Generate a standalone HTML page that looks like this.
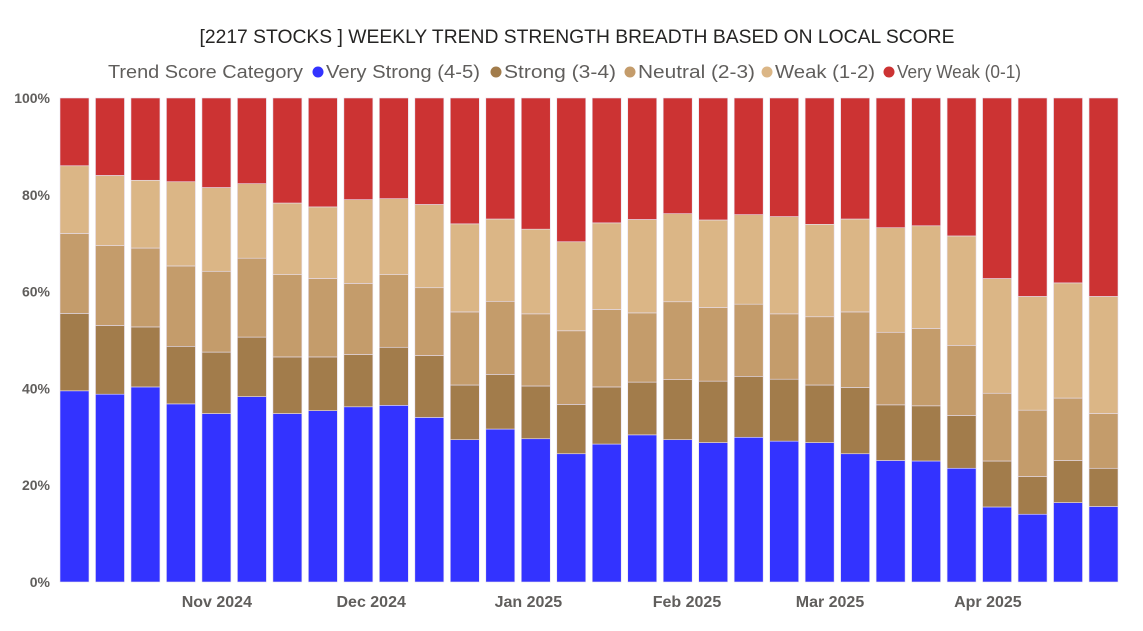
<!DOCTYPE html>
<html><head><meta charset="utf-8"><style>
body{margin:0;background:#fff;width:1143px;height:626px;overflow:hidden;font-family:"Liberation Sans",sans-serif}
</style></head><body>
<svg id="chart" width="1143" height="626" xmlns="http://www.w3.org/2000/svg">
<text x="577" y="43" text-anchor="middle" font-size="19" textLength="755" lengthAdjust="spacingAndGlyphs" fill="#252423">[2217 STOCKS ] WEEKLY TREND STRENGTH BREADTH BASED ON LOCAL SCORE</text>
<g id="legend"></g>
<g id="yaxis"></g>
<g id="bars"></g>
<g id="xaxis"></g>
</svg>
<script>
const seriesNames=["Very Strong (4-5)","Strong (3-4)","Neutral (2-3)","Weak (1-2)","Very Weak (0-1)"];
const seriesColors=["#3333ff","#a27c4b","#c49c6b","#dbb686","#cc3333"];
const veryStrong=[39.5,38.8,40.3,36.8,34.8,38.3,34.8,35.4,36.2,36.5,34,29.4,31.6,29.6,26.5,28.5,30.4,29.4,28.8,29.9,29.1,28.8,26.5,25.1,25,23.5,15.5,14,16.4,15.6];
const strong=[16,14.2,12.4,11.9,12.7,12.3,11.7,11.1,10.8,12,12.8,11.3,11.3,10.9,10.2,11.8,10.9,12.4,12.7,12.6,12.8,11.9,13.7,11.5,11.4,10.9,9.5,7.8,8.7,7.9];
const neutral=[16.5,16.5,16.3,16.6,16.7,16.3,17,16.2,14.7,15,14,15.1,15.1,14.9,15.2,16,14.3,16.1,15.2,14.9,13.5,14.1,15.6,15,16,14.5,14,13.7,12.9,11.3];
const weak=[14,14.5,14,17.4,17.3,15.4,14.8,14.8,17.3,15.7,17.2,18.2,17,17.5,18.4,17.9,19.3,18.2,18.1,18.5,20.1,19.1,19.2,21.6,21.2,22.6,23.7,23.5,23.8,24.2];
const categories=veryStrong.map((_,i)=>"W"+(i+1));
const yTicks=[0,20,40,60,80,100];
const xTickLabels=["Nov 2024","Dec 2024","Jan 2025","Feb 2025","Mar 2025","Apr 2025"];
const xTickIndex=[4.42,8.77,13.2,17.67,21.7,26.15];
const NS="http://www.w3.org/2000/svg";
const x0=60,x1=1118,y0=582,y1=98;
const n=categories.length, step=(x1-x0+6.5)/n, bw=step-6.5;
const xs=i=>x0+i*step;
const ys=v=>y0-(v/100)*(y0-y1);
function mk(t,a,p){const e=document.createElementNS(NS,t);for(const k in a)e.setAttribute(k,a[k]);p.appendChild(e);return e;}
const series=[veryStrong,strong,neutral,weak];
const barsG=document.getElementById('bars');
for(let i=0;i<n;i++){
  let cum=0;
  for(let s=0;s<5;s++){
    const v=s<4?series[s][i]:100-cum;
    const r=mk('rect',{x:xs(i),y:ys(cum+v),width:bw,height:ys(cum)-ys(cum+v),fill:seriesColors[s],stroke:'#e8e0f0','stroke-width':0.6},barsG);
    
    
    cum+=v;
  }
}
const yG=document.getElementById('yaxis');
yTicks.forEach(t=>{const e=mk('text',{x:50,y:ys(t)+5,'text-anchor':'end','font-size':14,'font-weight':'bold',fill:'#605e5c'},yG);e.textContent=t+'%';

});
const xG=document.getElementById('xaxis');
xTickLabels.forEach((l,k)=>{const e=mk('text',{x:x0+xTickIndex[k]*step,y:607,'text-anchor':'middle','font-size':16,'font-weight':'bold',fill:'#605e5c'},xG);e.textContent=l;

});
const lg=document.getElementById('legend');
const lt=mk('text',{x:108,y:78,'font-size':18,fill:'#605e5c',textLength:195,lengthAdjust:'spacingAndGlyphs'},lg);lt.textContent='Trend Score Category';


const lx=[318,496,630,767,889];
const lw=[154,112,117,100,124];
seriesNames.forEach((nm,s)=>{
  const g=mk('g',{},lg);
  
  
  mk('circle',{cx:lx[s],cy:72,r:5.5,fill:seriesColors[s]},g);
  const t=mk('text',{x:lx[s]+8,y:78,'font-size':18,fill:'#605e5c',textLength:lw[s],lengthAdjust:'spacingAndGlyphs'},g);t.textContent=nm;
});
</script>
</body></html>
